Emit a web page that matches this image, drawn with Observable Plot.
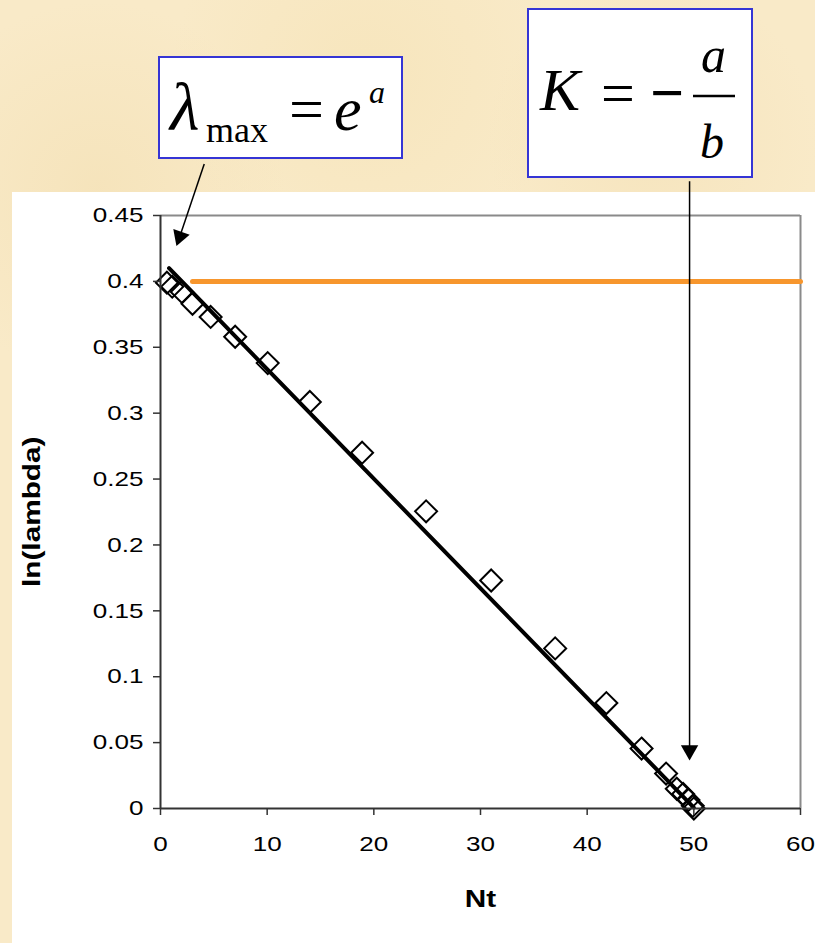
<!DOCTYPE html>
<html><head><meta charset="utf-8">
<script src="https://cdn.jsdelivr.net/npm/d3@7"></script>
<script src="https://cdn.jsdelivr.net/npm/@observablehq/plot@0.6"></script>
<style>
html,body{margin:0;padding:0;}
body{width:815px;height:943px;overflow:hidden;background:#f8e7c1;}
#wrap{position:relative;width:815px;height:943px;
  background:
   radial-gradient(circle at 12% 20%, rgba(240,218,168,0.4), rgba(0,0,0,0) 18%),
   radial-gradient(circle at 45% 8%, rgba(244,224,175,0.45), rgba(0,0,0,0) 20%),
   radial-gradient(circle at 80% 15%, rgba(240,218,170,0.35), rgba(0,0,0,0) 16%),
   #f9eac8;}
#panel{position:absolute;left:12px;top:192px;width:803px;height:751px;background:#fff;}
#chart{position:absolute;left:0;top:0;}
#formulas{position:absolute;left:0;top:0;}
</style></head><body>
<div id="wrap">
  <div id="panel"></div>
  <div id="chart"></div>
  <svg id="formulas" width="815" height="200" font-family="'Liberation Serif','Times New Roman',serif">
    <rect x="159" y="57" width="243" height="101" fill="#fff" stroke="#3535d5" stroke-width="2"/>
    <text x="170" y="130" font-size="68" font-style="italic">λ</text>
    <text x="206" y="142" font-size="36">max</text>
    <text x="289" y="130" font-size="62">=</text>
    <text x="334" y="130" font-size="62" font-style="italic">e</text>
    <text x="369" y="103" font-size="32" font-style="italic">a</text>
    <rect x="528" y="9" width="224" height="168" fill="#fff" stroke="#3535d5" stroke-width="2"/>
    <text x="540" y="110" font-size="60" font-style="italic">K</text>
    <text x="601" y="113" font-size="60">=</text>
    <text x="650" y="113" font-size="60" font-weight="bold">−</text>
    <line x1="693" x2="735" y1="96" y2="96" stroke="#000" stroke-width="2.5"/>
    <text x="701" y="72" font-size="50" font-style="italic">a</text>
    <text x="700" y="158" font-size="48" font-style="italic">b</text>
  </svg>
</div>
<script>
// data
const Nt = [0.6, 1.1, 2.0, 3.0, 4.7, 7.0, 10.05, 14.0, 18.9, 24.9, 31.0, 37.0, 41.8, 45.1, 47.4, 48.4, 49.0, 49.5, 49.9, 50.0];
const lnLambda = [0.399, 0.396, 0.392, 0.383, 0.373, 0.358, 0.338, 0.3085, 0.270, 0.2255, 0.173, 0.1215, 0.080, 0.0455, 0.0265, 0.015, 0.011, 0.0065, 0.002, 0.0];
const trendNt = [0.8, 50.0];
const trendLn = [0.410, 0.0007];
const refNt = [3, 60];
const refLn = [0.4, 0.4];
const xTicks = [0, 10, 20, 30, 40, 50, 60];
const yTicks = [0, 0.05, 0.1, 0.15, 0.2, 0.25, 0.3, 0.35, 0.4, 0.45];
const yTickLabels = ["0", "0.05", "0.1", "0.15", "0.2", "0.25", "0.3", "0.35", "0.4", "0.45"];
const xTitle = "Nt";
const yTitle = "ln(lambda)";
// annotation arrows (in data units)
const arrowStartNt = [4.1, 49.6];
const arrowStartLn = [0.489, 0.476];
const arrowTipNt = [1.81, 49.6];
const arrowTipLn = [0.434, 0.0441];
const arrowAngle = [199.5, 180];

const points = Nt.map((x, i) => ({x, y: lnLambda[i]}));
const trend = trendNt.map((x, i) => ({x, y: trendLn[i]}));
const ref = refNt.map((x, i) => ({x, y: refLn[i]}));
const arrows = arrowStartNt.map((x1, i) => ({x1, y1: arrowStartLn[i], x2: arrowTipNt[i], y2: arrowTipLn[i], a: arrowAngle[i]}));

const font = "'Liberation Sans', Arial, sans-serif";
const chart = Plot.plot({
  width: 815, height: 943,
  marginLeft: 160, marginRight: 15, marginTop: 215, marginBottom: 135,
  style: {background: "transparent", fontFamily: font, fontSize: "20px", color: "#000", overflow: "visible"},
  x: {domain: [0, 60]},
  y: {domain: [0, 0.45]},
  marks: [
    Plot.ruleY([0.45], {stroke: "#8a8a8a", strokeWidth: 2}),
    Plot.ruleX([60], {stroke: "#8a8a8a", strokeWidth: 2}),
    Plot.line(ref, {x: "x", y: "y", stroke: "#f7962d", strokeWidth: 5}),
    Plot.dot(points, {x: "x", y: "y", symbol: "diamond2", r: 9.9, stroke: "#000", strokeWidth: 2, fill: "none"}),
    Plot.line(trend, {x: "x", y: "y", stroke: "#000", strokeWidth: 4}),
    Plot.ruleX([0], {stroke: "#333", strokeWidth: 2}),
    Plot.ruleY([0], {stroke: "#333", strokeWidth: 2}),
    Plot.axisX({ticks: xTicks, tickSize: 7, tickPadding: 21, stroke: "#333", strokeWidth: 1.5, fontSize: 21, fill: "#000", label: null, tickFormat: d => String(d)}),
    Plot.axisY({ticks: yTicks, tickSize: 7, tickPadding: 10, stroke: "#333", strokeWidth: 1.5, fontSize: 21, fill: "#000", label: null, tickFormat: d => yTickLabels[yTicks.indexOf(d)]}),
    Plot.link(arrows, {x1: "x1", y1: "y1", x2: "x2", y2: "y2", stroke: "#000", strokeWidth: 1.5}),
    Plot.dot(arrows, {x: "x2", y: "y2", symbol: "triangle2", r: 8.3, fill: "#000", stroke: "none", rotate: "a"}),
    Plot.text([xTitle], {frameAnchor: "bottom", dy: 98, fontWeight: "bold", fontSize: 24, fill: "#000"}),
    Plot.text([yTitle], {frameAnchor: "left", dx: -128, dy: 75, rotate: -90, fontWeight: "bold", fontSize: 24, fill: "#000"})
  ]
});
document.getElementById("chart").appendChild(chart);

// widen the chart's text along its baseline, as in the reference,
// keeping each text's anchor point where it was
chart.querySelectorAll("text").forEach(t => {
  const len = t.getComputedTextLength();
  if (!(len > 0)) return;
  const k = 1.24;
  const anchor = t.getAttribute("text-anchor") || (t.parentNode && t.parentNode.getAttribute && t.parentNode.getAttribute("text-anchor")) || getComputedStyle(t).textAnchor;
  let shift = 0;
  if (anchor === "middle") shift = -len * k / 2;
  else if (anchor === "end") shift = -len * k;
  t.setAttribute("text-anchor", "start");
  const dx0 = parseFloat(t.getAttribute("dx") || "0");
  t.setAttribute("dx", (dx0 + shift).toFixed(2));
  t.setAttribute("textLength", (len * k).toFixed(1));
  t.setAttribute("lengthAdjust", "spacingAndGlyphs");
});
</script>
</body></html>
